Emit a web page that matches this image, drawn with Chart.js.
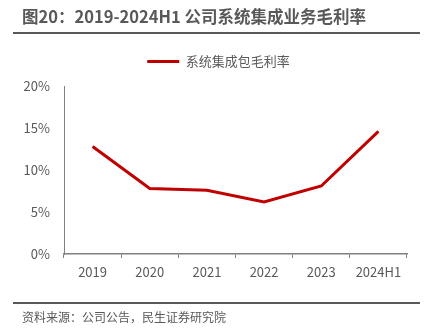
<!DOCTYPE html>
<html>
<head>
<meta charset="utf-8">
<script src="https://cdn.jsdelivr.net/npm/chart.js@4"></script>
<style>
  body { margin: 0; background: #fff; }
  #wrap { position: relative; width: 430px; height: 336px; font-family: "Noto Sans CJK SC", "Noto Sans", sans-serif; }
  #title { position: absolute; left: 22px; top: 4px; font-size: 16.5px; font-weight: bold; color: #595959; white-space: nowrap; }
  .rule { position: absolute; left: 13px; width: 407px; height: 2px; background: #595959; }
  #source { position: absolute; left: 22px; top: 308px; font-size: 12px; color: #595959; white-space: nowrap; }
  canvas { position: absolute; left: 0; top: 0; }
</style>
</head>
<body>
<div id="wrap">
  <canvas id="chart" width="430" height="336"></canvas>
  <div id="title">图20：2019-2024H1 公司系统集成业务毛利率</div>
  <div class="rule" style="top:32px"></div>
  <div class="rule" style="top:302px"></div>
  <div id="source">资料来源：公司公告，民生证券研究院</div>
</div>
<script>
// data
const years = ["2019", "2020", "2021", "2022", "2023", "2024H1"];
const grossMargin = [12.8, 7.8, 7.6, 6.2, 8.1, 14.6];   // %
const seriesName = "系统集成包毛利率";

const textColor = "#595959";
const axisColor = "#808080";
const font = { family: '"Noto Sans CJK SC", "Noto Sans", sans-serif', size: 13 };

// nudge the legend box so it sits where the reference has it
const legendNudge = {
  id: "legendNudge",
  afterLayout(chart) {
    const lg = chart.legend;
    lg.left += 15; lg.right += 15;
    lg.top -= 8; lg.bottom -= 8;
  }
};

const ctx = document.getElementById("chart").getContext("2d");
new Chart(ctx, {
  type: "line",
  data: {
    labels: years,
    datasets: [{
      label: seriesName,
      data: grossMargin,
      borderColor: "#C00000",
      backgroundColor: "#C00000",
      borderWidth: 3,
      pointRadius: 0,
      pointStyle: "line",
      tension: 0
    }]
  },
  options: {
    responsive: false,
    animation: false,
    layout: { padding: { top: 44, right: 23, left: 0, bottom: 0 } },
    plugins: {
      tooltip: { enabled: false },
      legend: {
        position: "top",
        labels: {
          usePointStyle: true,
          pointStyleWidth: 32,
          color: textColor,
          font: font,
          padding: 19
        }
      }
    },
    scales: {
      x: {
        offset: true,
        grid: { display: true, drawOnChartArea: false, drawTicks: true, tickLength: 4, color: axisColor, offset: true },
        border: { display: true, color: axisColor, width: 1.5 },
        ticks: { color: textColor, font: font, padding: 6, maxRotation: 0 },
        afterFit: axis => { axis.height = 82; }
      },
      y: {
        min: 0,
        max: 20,
        grid: { display: false, drawTicks: false },
        border: { display: true, color: axisColor, width: 1 },
        ticks: {
          stepSize: 5,
          color: textColor,
          font: font,
          padding: 14,
          callback: v => v + "%"
        },
        afterFit: axis => { axis.width = 64; }
      }
    }
  },
  plugins: [legendNudge]
});
</script>
</body>
</html>
